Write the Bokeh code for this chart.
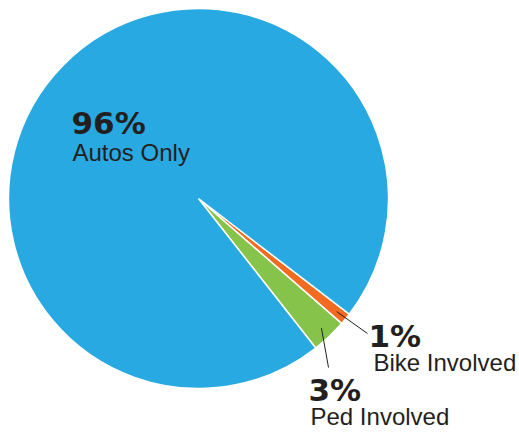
import math
from bokeh.plotting import figure
from bokeh.models import Range1d, ColumnDataSource
from bokeh.core.properties import value
from bokeh.embed import file_html
from bokeh.resources import INLINE

# ---- data ----
categories = ["Ped Involved", "Bike Involved", "Autos Only"]
shares = [3, 1, 96]
pct_labels = ["3%", "1%", "96%"]
colors = ["#86C34A", "#F36B21", "#29A9E1"]

# ---- layout (page pixel coordinates, converted to data units) ----
W, H = 519, 432
def dx(x):
    return x
def dy(y):
    return H - y

TEXT_SHIFT = 9  # svg text baseline correction (px)

CX, CY, R = dx(198), dy(198), 190
START = math.radians(-51.9)

total = sum(shares)
starts, ends = [], []
a = START
for s in shares:
    starts.append(a)
    a += 2 * math.pi * s / total
    ends.append(a)

p = figure(width=W, height=H, output_backend="svg", toolbar_location=None,
           x_range=Range1d(0, W), y_range=Range1d(0, H),
           min_border=0, outline_line_color=None)
p.axis.visible = False
p.grid.visible = False
p.background_fill_color = "white"
p.border_fill_color = "white"

src = ColumnDataSource(dict(start=starts, end=ends, color=colors, cat=categories))
p.wedge(x=CX, y=CY, radius=R, start_angle="start", end_angle="end",
        fill_color="color", line_color="white", line_width=1.5, source=src)

# label anchors (page px): (pct x, pct baseline, name x, name baseline, leader end)
layout = {
    "Autos Only": (71, 131, 72, 161, None),
    "Bike Involved": (368, 344, 373, 371, (367, 333)),
    "Ped Involved": (308, 398, 310, 425, (328, 367)),
}

TXT = "#231F20"
for cat, lab, st, en in zip(categories, pct_labels, starts, ends):
    px, pyb, nx, nyb, lend = layout[cat]
    p.text(x=[dx(px)], y=[dy(pyb - TEXT_SHIFT)], text=[lab], text_font=value("DejaVu Sans"),
           text_font_style="bold", text_font_size="31px", text_color=TXT,
           text_baseline="alphabetic", text_align="left")
    p.text(x=[dx(nx)], y=[dy(nyb - TEXT_SHIFT)], text=[cat], text_font=value("Liberation Sans"),
           text_font_size="24px", text_color=TXT,
           text_baseline="alphabetic", text_align="left")
    if lend is not None:
        mid = (st + en) / 2
        x0 = CX + 0.94 * R * math.cos(mid)
        y0 = CY + 0.94 * R * math.sin(mid)
        p.line(x=[x0, dx(lend[0])], y=[y0, dy(lend[1])], line_color=TXT, line_width=1)

open("out.html", "w").write(file_html(p, INLINE))
